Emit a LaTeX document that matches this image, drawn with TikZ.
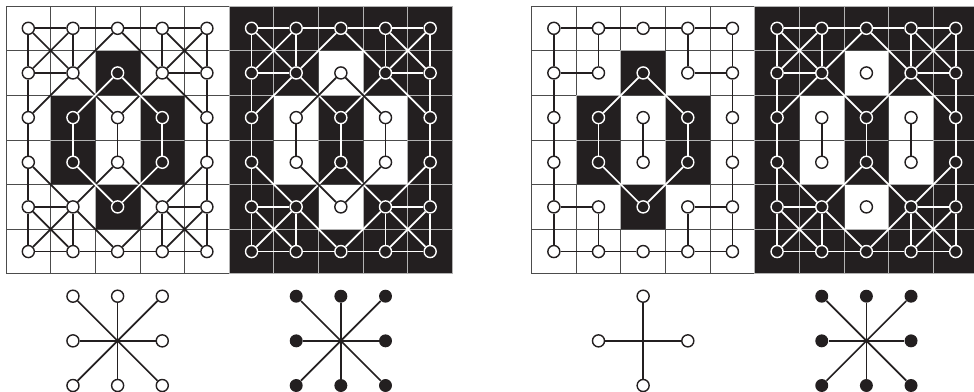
\documentclass[tikz,border=0pt]{standalone}
\usepackage{tikz}
\definecolor{ink}{RGB}{35,31,32}
\tikzset{
  cell0/.style={fill=white, draw=black!70, line width=0.5pt},
  cell1/.style={fill=ink, draw=black!30, line width=0.5pt},
  pix0/.style={
    circle,
    draw=ink,
    fill=white,
    line width=0.9pt,
    minimum size=0.27cm,
    inner sep=0pt
  },
  pix1/.style={
    circle,
    draw=white,
    fill=ink,
    line width=0.9pt,
    minimum size=0.27cm,
    inner sep=0pt
  },
  dot/.style={circle, fill=ink, minimum size=0.29cm, inner sep=0pt},
  blk/.style={draw=ink, line width=1.1pt},
  wht/.style={draw=white, line width=1.1pt}
}
% 4-neighbour and diagonal links of the outer set, then of the inner ring
\newcommand\ofour{0/0/0/1, 0/1/0/2, 0/2/0/3, 0/3/0/4, 1/0/1/1, 1/3/1/4, 4/0/4/1, 4/3/4/4,
  5/0/5/1, 5/1/5/2, 5/2/5/3, 5/3/5/4, 0/0/1/0, 1/0/2/0, 2/0/3/0, 3/0/4/0, 4/0/5/0,
  0/4/1/4, 1/4/2/4, 2/4/3/4, 3/4/4/4, 4/4/5/4, 0/1/1/1, 4/1/5/1, 0/3/1/3, 4/3/5/3, 2/2/3/2}
\newcommand\odiag{0/0/1/1, 0/1/1/0, 0/2/1/1, 0/2/1/3, 0/3/1/4, 0/4/1/3, 1/1/2/2, 1/1/2/0,
  1/3/2/4, 1/3/2/2, 3/0/4/1, 3/2/4/3, 3/2/4/1, 3/4/4/3, 4/0/5/1, 4/1/5/0, 4/1/5/2,
  4/3/5/2, 4/3/5/4, 4/4/5/3}
\newcommand\bfour{2/1/3/1, 2/3/3/3}
\newcommand\bdiag{1/2/2/1, 1/2/2/3, 3/1/4/2, 3/3/4/2}
\newcommand\linkset[3]{\foreach \ra/\ca/\rb/\cb in #3 {\draw[#2] (g#1-\ra-\ca) -- (g#1-\rb-\cb);}}

\begin{document}
\begin{tikzpicture}
  \useasboundingbox (-0.134,-8.645) rectangle (21.68,0.134);

  % the four pixel grids
  \foreach \g/\ox/\inv in {1/0/0, 2/5/1, 3/11.77/0, 4/16.77/1} {
    \foreach \row in {0,...,5} {
      \foreach \col in {0,...,4} {
        \pgfmathtruncatemacro\isb{abs(\col-2)+abs(\row-2.5)==1.5}
        \pgfmathtruncatemacro\dk{mod(\isb+\inv,2)}
        \path[cell\dk] (\ox+\col,-\row) rectangle ++(1,-1);
        \node[pix\dk] (g\g-\row-\col) at (\ox+\col+0.5,-\row-0.5) {};
      }
    }
  }

  % grid 1: 8/8
  \linkset{1}{blk}{\ofour}
  \linkset{1}{blk}{\odiag}
  \linkset{1}{wht}{\bfour}
  \linkset{1}{wht}{\bdiag}
  % grid 2: 8/8, inverted
  \linkset{2}{wht}{\ofour}
  \linkset{2}{wht}{\odiag}
  \linkset{2}{blk}{\bfour}
  \linkset{2}{blk}{\bdiag}
  % grid 3: 4/8
  \linkset{3}{blk}{\ofour}
  \linkset{3}{wht}{\bfour}
  \linkset{3}{wht}{\bdiag}
  % grid 4: 8/4
  \linkset{4}{wht}{\ofour}
  \linkset{4}{wht}{\odiag}
  \linkset{4}{blk}{\bfour}

  % neighbourhoods
  \foreach \g/\ox/\sty in {1/0/pix0, 2/5/dot, 4/16.77/dot} {
    \coordinate (s\g) at (\ox+2.5,-7.5);
    \foreach \dx/\dy/\nm in {-1/1/nw, 0/1/n, 1/1/ne, -1/0/w, 1/0/e, -1/-1/sw, 0/-1/s, 1/-1/se} {
      \node[style=\sty] (s\g-\nm) at (\ox+2.5+\dx,-7.5+\dy) {};
      \draw[blk] (s\g) -- (s\g-\nm);
    }
  }
  \coordinate (s3) at (14.27,-7.5);
  \foreach \dx/\dy/\nm in {0/1/n, -1/0/w, 1/0/e, 0/-1/s} {
    \node[pix0] (s3-\nm) at (14.27+\dx,-7.5+\dy) {};
    \draw[blk] (s3) -- (s3-\nm);
  }
\end{tikzpicture}
\end{document}
